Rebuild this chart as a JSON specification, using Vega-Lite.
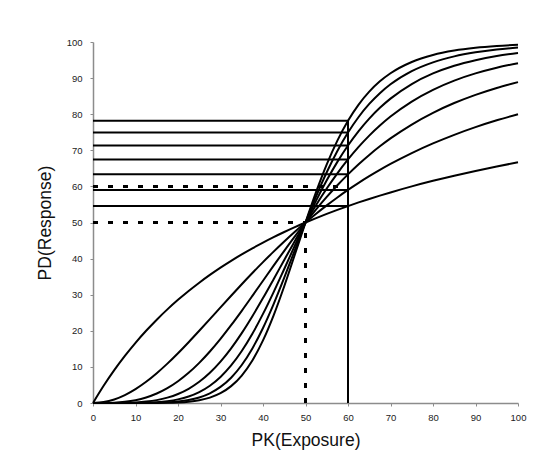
{
  "$schema": "https://vega.github.io/schema/vega-lite/v6.json",
  "width": 425,
  "height": 361,
  "autosize": {"type": "none"},
  "padding": {"left": 93, "top": 42, "right": 21, "bottom": 73},
  "background": "white",
  "config": {
    "view": {"stroke": null},
    "axis": {
      "grid": false,
      "domainColor": "#8c8c8c",
      "domainWidth": 1.5,
      "tickColor": "#8c8c8c",
      "tickSize": 3,
      "labelFont": "Liberation Sans",
      "labelFontSize": 9.5,
      "labelColor": "#222222",
      "titleFont": "Liberation Sans",
      "titleFontSize": 17.5,
      "titleFontWeight": "normal",
      "titleColor": "#111111"
    }
  },
  "datasets": {
    "curves": [
      {"x":0,"n":1,"y":0},{"x":0,"n":2,"y":0},{"x":0,"n":3,"y":0},{"x":0,"n":4,"y":0},{"x":0,"n":5,"y":0},{"x":0,"n":6,"y":0},{"x":0,"n":7,"y":0},
      {"x":2.5,"n":1,"y":4.76},{"x":2.5,"n":2,"y":0.25},{"x":2.5,"n":3,"y":0.01},{"x":2.5,"n":4,"y":0},{"x":2.5,"n":5,"y":0},{"x":2.5,"n":6,"y":0},{"x":2.5,"n":7,"y":0},
      {"x":5,"n":1,"y":9.09},{"x":5,"n":2,"y":0.99},{"x":5,"n":3,"y":0.1},{"x":5,"n":4,"y":0.01},{"x":5,"n":5,"y":0},{"x":5,"n":6,"y":0},{"x":5,"n":7,"y":0},
      {"x":7.5,"n":1,"y":13.04},{"x":7.5,"n":2,"y":2.2},{"x":7.5,"n":3,"y":0.34},{"x":7.5,"n":4,"y":0.05},{"x":7.5,"n":5,"y":0.01},{"x":7.5,"n":6,"y":0},{"x":7.5,"n":7,"y":0},
      {"x":10,"n":1,"y":16.67},{"x":10,"n":2,"y":3.85},{"x":10,"n":3,"y":0.79},{"x":10,"n":4,"y":0.16},{"x":10,"n":5,"y":0.03},{"x":10,"n":6,"y":0.01},{"x":10,"n":7,"y":0},
      {"x":12.5,"n":1,"y":20},{"x":12.5,"n":2,"y":5.88},{"x":12.5,"n":3,"y":1.54},{"x":12.5,"n":4,"y":0.39},{"x":12.5,"n":5,"y":0.1},{"x":12.5,"n":6,"y":0.02},{"x":12.5,"n":7,"y":0.01},
      {"x":15,"n":1,"y":23.08},{"x":15,"n":2,"y":8.26},{"x":15,"n":3,"y":2.63},{"x":15,"n":4,"y":0.8},{"x":15,"n":5,"y":0.24},{"x":15,"n":6,"y":0.07},{"x":15,"n":7,"y":0.02},
      {"x":17.5,"n":1,"y":25.93},{"x":17.5,"n":2,"y":10.91},{"x":17.5,"n":3,"y":4.11},{"x":17.5,"n":4,"y":1.48},{"x":17.5,"n":5,"y":0.52},{"x":17.5,"n":6,"y":0.18},{"x":17.5,"n":7,"y":0.06},
      {"x":20,"n":1,"y":28.57},{"x":20,"n":2,"y":13.79},{"x":20,"n":3,"y":6.02},{"x":20,"n":4,"y":2.5},{"x":20,"n":5,"y":1.01},{"x":20,"n":6,"y":0.41},{"x":20,"n":7,"y":0.16},
      {"x":22.5,"n":1,"y":31.03},{"x":22.5,"n":2,"y":16.84},{"x":22.5,"n":3,"y":8.35},{"x":22.5,"n":4,"y":3.94},{"x":22.5,"n":5,"y":1.81},{"x":22.5,"n":6,"y":0.82},{"x":22.5,"n":7,"y":0.37},
      {"x":25,"n":1,"y":33.33},{"x":25,"n":2,"y":20},{"x":25,"n":3,"y":11.11},{"x":25,"n":4,"y":5.88},{"x":25,"n":5,"y":3.03},{"x":25,"n":6,"y":1.54},{"x":25,"n":7,"y":0.78},
      {"x":27.5,"n":1,"y":35.48},{"x":27.5,"n":2,"y":23.22},{"x":27.5,"n":3,"y":14.26},{"x":27.5,"n":4,"y":8.38},{"x":27.5,"n":5,"y":4.79},{"x":27.5,"n":6,"y":2.69},{"x":27.5,"n":7,"y":1.5},
      {"x":30,"n":1,"y":37.5},{"x":30,"n":2,"y":26.47},{"x":30,"n":3,"y":17.76},{"x":30,"n":4,"y":11.47},{"x":30,"n":5,"y":7.22},{"x":30,"n":6,"y":4.46},{"x":30,"n":7,"y":2.72},
      {"x":32.5,"n":1,"y":39.39},{"x":32.5,"n":2,"y":29.7},{"x":32.5,"n":3,"y":21.55},{"x":32.5,"n":4,"y":15.15},{"x":32.5,"n":5,"y":10.4},{"x":32.5,"n":6,"y":7.01},{"x":32.5,"n":7,"y":4.67},
      {"x":35,"n":1,"y":41.18},{"x":35,"n":2,"y":32.89},{"x":35,"n":3,"y":25.54},{"x":35,"n":4,"y":19.36},{"x":35,"n":5,"y":14.39},{"x":35,"n":6,"y":10.53},{"x":35,"n":7,"y":7.61},
      {"x":37.5,"n":1,"y":42.86},{"x":37.5,"n":2,"y":36},{"x":37.5,"n":3,"y":29.67},{"x":37.5,"n":4,"y":24.04},{"x":37.5,"n":5,"y":19.18},{"x":37.5,"n":6,"y":15.11},{"x":37.5,"n":7,"y":11.78},
      {"x":40,"n":1,"y":44.44},{"x":40,"n":2,"y":39.02},{"x":40,"n":3,"y":33.86},{"x":40,"n":4,"y":29.06},{"x":40,"n":5,"y":24.68},{"x":40,"n":6,"y":20.77},{"x":40,"n":7,"y":17.34},
      {"x":42.5,"n":1,"y":45.95},{"x":42.5,"n":2,"y":41.94},{"x":42.5,"n":3,"y":38.05},{"x":42.5,"n":4,"y":34.3},{"x":42.5,"n":5,"y":30.73},{"x":42.5,"n":6,"y":27.39},{"x":42.5,"n":7,"y":24.28},
      {"x":45,"n":1,"y":47.37},{"x":45,"n":2,"y":44.75},{"x":45,"n":3,"y":42.16},{"x":45,"n":4,"y":39.62},{"x":45,"n":5,"y":37.13},{"x":45,"n":6,"y":34.7},{"x":45,"n":7,"y":32.35},
      {"x":47.5,"n":1,"y":48.72},{"x":47.5,"n":2,"y":47.44},{"x":47.5,"n":3,"y":46.16},{"x":47.5,"n":4,"y":44.89},{"x":47.5,"n":5,"y":43.62},{"x":47.5,"n":6,"y":42.37},{"x":47.5,"n":7,"y":41.12},
      {"x":50,"n":1,"y":50},{"x":50,"n":2,"y":50},{"x":50,"n":3,"y":50},{"x":50,"n":4,"y":50},{"x":50,"n":5,"y":50},{"x":50,"n":6,"y":50},{"x":50,"n":7,"y":50},
      {"x":52.5,"n":1,"y":51.22},{"x":52.5,"n":2,"y":52.44},{"x":52.5,"n":3,"y":53.65},{"x":52.5,"n":4,"y":54.86},{"x":52.5,"n":5,"y":56.07},{"x":52.5,"n":6,"y":57.27},{"x":52.5,"n":7,"y":58.46},
      {"x":55,"n":1,"y":52.38},{"x":55,"n":2,"y":54.75},{"x":55,"n":3,"y":57.1},{"x":55,"n":4,"y":59.42},{"x":55,"n":5,"y":61.69},{"x":55,"n":6,"y":63.92},{"x":55,"n":7,"y":66.09},
      {"x":57.5,"n":1,"y":53.49},{"x":57.5,"n":2,"y":56.94},{"x":57.5,"n":3,"y":60.33},{"x":57.5,"n":4,"y":63.62},{"x":57.5,"n":5,"y":66.79},{"x":57.5,"n":6,"y":69.82},{"x":57.5,"n":7,"y":72.68},
      {"x":60,"n":1,"y":54.55},{"x":60,"n":2,"y":59.02},{"x":60,"n":3,"y":63.34},{"x":60,"n":4,"y":67.46},{"x":60,"n":5,"y":71.33},{"x":60,"n":6,"y":74.91},{"x":60,"n":7,"y":78.18},
      {"x":62.5,"n":1,"y":55.56},{"x":62.5,"n":2,"y":60.98},{"x":62.5,"n":3,"y":66.14},{"x":62.5,"n":4,"y":70.94},{"x":62.5,"n":5,"y":75.32},{"x":62.5,"n":6,"y":79.23},{"x":62.5,"n":7,"y":82.66},
      {"x":65,"n":1,"y":56.52},{"x":65,"n":2,"y":62.83},{"x":65,"n":3,"y":68.72},{"x":65,"n":4,"y":74.07},{"x":65,"n":5,"y":78.78},{"x":65,"n":6,"y":82.84},{"x":65,"n":7,"y":86.25},
      {"x":67.5,"n":1,"y":57.45},{"x":67.5,"n":2,"y":64.57},{"x":67.5,"n":3,"y":71.1},{"x":67.5,"n":4,"y":76.86},{"x":67.5,"n":5,"y":81.77},{"x":67.5,"n":6,"y":85.82},{"x":67.5,"n":7,"y":89.1},
      {"x":70,"n":1,"y":58.33},{"x":70,"n":2,"y":66.22},{"x":70,"n":3,"y":73.29},{"x":70,"n":4,"y":79.35},{"x":70,"n":5,"y":84.32},{"x":70,"n":6,"y":88.28},{"x":70,"n":7,"y":91.34},
      {"x":75,"n":1,"y":60},{"x":75,"n":2,"y":69.23},{"x":75,"n":3,"y":77.14},{"x":75,"n":4,"y":83.51},{"x":75,"n":5,"y":88.36},{"x":75,"n":6,"y":91.93},{"x":75,"n":7,"y":94.47},
      {"x":80,"n":1,"y":61.54},{"x":80,"n":2,"y":71.91},{"x":80,"n":3,"y":80.38},{"x":80,"n":4,"y":86.76},{"x":80,"n":5,"y":91.29},{"x":80,"n":6,"y":94.37},{"x":80,"n":7,"y":96.41},
      {"x":85,"n":1,"y":62.96},{"x":85,"n":2,"y":74.29},{"x":85,"n":3,"y":83.09},{"x":85,"n":4,"y":89.31},{"x":85,"n":5,"y":93.42},{"x":85,"n":6,"y":96.02},{"x":85,"n":7,"y":97.62},
      {"x":90,"n":1,"y":64.29},{"x":90,"n":2,"y":76.42},{"x":90,"n":3,"y":85.36},{"x":90,"n":4,"y":91.3},{"x":90,"n":5,"y":94.97},{"x":90,"n":6,"y":97.14},{"x":90,"n":7,"y":98.39},
      {"x":95,"n":1,"y":65.52},{"x":95,"n":2,"y":78.31},{"x":95,"n":3,"y":87.28},{"x":95,"n":4,"y":92.87},{"x":95,"n":5,"y":96.12},{"x":95,"n":6,"y":97.92},{"x":95,"n":7,"y":98.89},
      {"x":100,"n":1,"y":66.67},{"x":100,"n":2,"y":80},{"x":100,"n":3,"y":88.89},{"x":100,"n":4,"y":94.12},{"x":100,"n":5,"y":96.97},{"x":100,"n":6,"y":98.46},{"x":100,"n":7,"y":99.22}
    ],
    "solidRefs": [
      {"x":0,"x2":60,"y":54.55,"y2":54.55},
      {"x":0,"x2":60,"y":59.02,"y2":59.02},
      {"x":0,"x2":60,"y":63.34,"y2":63.34},
      {"x":0,"x2":60,"y":67.46,"y2":67.46},
      {"x":0,"x2":60,"y":71.33,"y2":71.33},
      {"x":0,"x2":60,"y":74.91,"y2":74.91},
      {"x":0,"x2":60,"y":78.18,"y2":78.18},
      {"x":60,"x2":60,"y":0,"y2":78.18}
    ],
    "dashedRefs": [
      {"x":0,"x2":50,"y":50,"y2":50},
      {"x":50,"x2":50,"y":0,"y2":50},
      {"x":0,"x2":60,"y":60,"y2":60}
    ]
  },
  "encoding": {
    "x": {"field": "x", "type": "quantitative", "scale": {"domain": [0, 100], "nice": false},
          "axis": {"values": [0,10,20,30,40,50,60,70,80,90,100], "tickCount": 11, "labelOverlap": false, "labelFlush": false, "labelBound": false, "title": "PK(Exposure)", "titlePadding": 10, "labelPadding": 6}},
    "y": {"field": "y", "type": "quantitative", "scale": {"domain": [0, 100], "nice": false},
          "axis": {"values": [0,10,20,30,40,50,60,70,80,90,100], "tickCount": 11, "labelOverlap": false, "labelFlush": false, "labelBound": false, "title": "PD(Response)", "titlePadding": 12, "labelPadding": 8}}
  },
  "layer": [
    {
      "data": {"name": "solidRefs"},
      "mark": {"type": "rule", "color": "black", "strokeWidth": 2},
      "encoding": {
        "x2": {"field": "x2"},
        "y2": {"field": "y2"}
      }
    },
    {
      "data": {"name": "dashedRefs"},
      "mark": {"type": "rule", "color": "black", "strokeWidth": 3, "strokeDash": [5, 10]},
      "encoding": {
        "x2": {"field": "x2"},
        "y2": {"field": "y2"}
      }
    },
    {
      "data": {"name": "curves"},
      "mark": {"type": "line", "color": "black", "strokeWidth": 2, "interpolate": "monotone"},
      "encoding": {
        "detail": {"field": "n", "type": "nominal"}
      }
    }
  ]
}
